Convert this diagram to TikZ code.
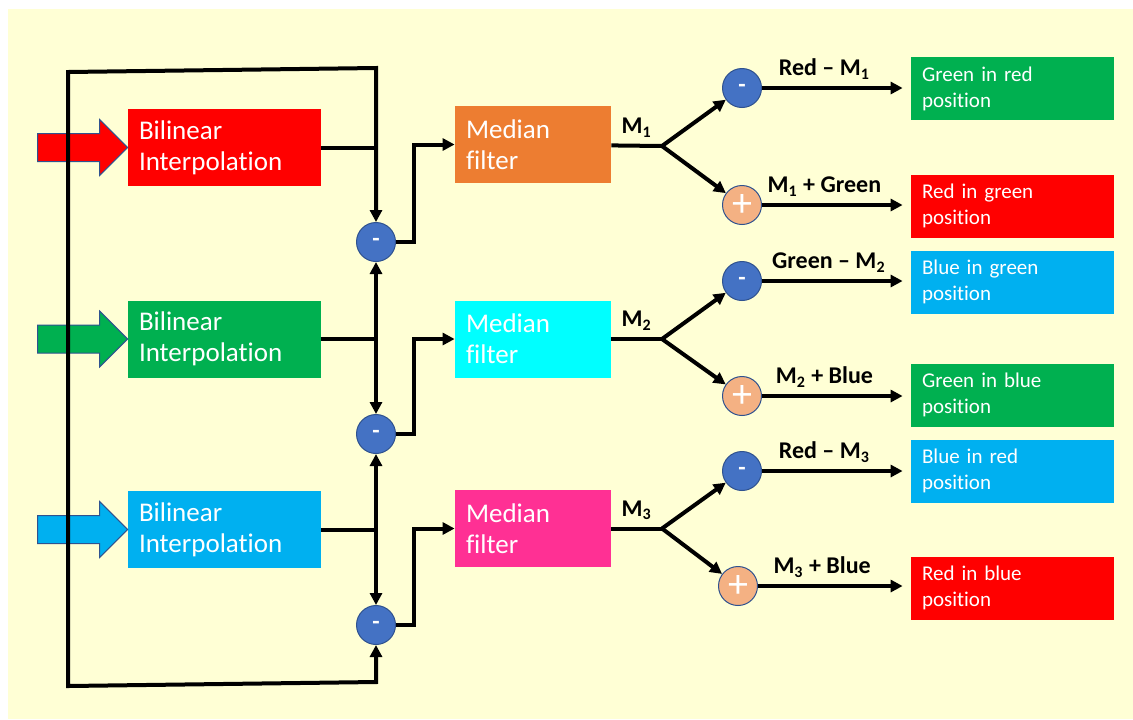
\documentclass[tikz,border=0pt]{standalone}
\usepackage{fontspec}
\setmainfont{Carlito}[Ligatures={TeX,NoCommon}]
\definecolor{bgyellow}{RGB}{255, 255, 213}
\definecolor{bilred}{RGB}{255, 0, 0}
\definecolor{bilgreen}{RGB}{0, 176, 80}
\definecolor{bilblue}{RGB}{0, 176, 240}
\definecolor{medorange}{RGB}{237, 125, 49}
\definecolor{medcyan}{RGB}{0, 255, 255}
\definecolor{medpink}{RGB}{255, 48, 148}
\definecolor{subblue}{RGB}{68, 114, 196}
\definecolor{addorange}{RGB}{244, 177, 131}
\definecolor{edgeblue}{RGB}{47, 82, 143}
\usetikzlibrary{arrows.meta, positioning}

\begin{document}
\begin{tikzpicture}[x=0.5pt, y=-0.5pt,
    flow/.style={draw=black, line width=2pt},
    >={Triangle[length=6pt, width=6pt]},
    bilbox/.style={rectangle, text=white, align=left, inner xsep=5.5pt,
                   text width=85.5pt, minimum height=38.5pt,
                   font=\fontsize{13.5}{15.5}\selectfont},
    medbox/.style={bilbox, text width=67pt},
    outbox/.style={rectangle, text=white, align=left, inner xsep=5.5pt,
                   text width=90.5pt, minimum height=31.5pt,
                   font=\fontsize{10.5}{13}\selectfont},
    subnode/.style={circle, fill=subblue, draw=edgeblue, line width=0.5pt,
                    minimum size=19.5pt, inner sep=0pt, text=white,
                    font=\fontsize{12}{12}\selectfont\bfseries},
    addnode/.style={subnode, fill=addorange,
                    font=\fontsize{20}{20}\selectfont},
    lbl/.style={font=\fontsize{12}{14}\selectfont\bfseries},
    inarrow/.style={draw=edgeblue, line width=0.5pt}]

    % background
    \useasboundingbox (0,0) rectangle (1133,719);
    \fill[bgyellow] (8,9) rectangle (1133,719);

    % Bilinear interpolation
    \node[bilbox, fill=bilred] (bil1) at (224.5,147.5) {Bilinear\\Interpolation};
    \node[bilbox, fill=bilgreen] (bil2) at (224.5,339) {Bilinear\\Interpolation};
    \node[bilbox, fill=bilblue] (bil3) at (224.5,529.5) {Bilinear\\Interpolation};

    % input arrows
    \draw[inarrow, fill=bilred] (bil1.west) -- ++(-28,-28) -- ++(0,14) -- ++(-62,0)
        -- ++(0,28) -- ++(62,0) -- ++(0,14) -- cycle;
    \draw[inarrow, fill=bilgreen] (bil2.west) -- ++(-28,-28) -- ++(0,14) -- ++(-62,0)
        -- ++(0,28) -- ++(62,0) -- ++(0,14) -- cycle;
    \draw[inarrow, fill=bilblue] (bil3.west) -- ++(-28,-28) -- ++(0,14) -- ++(-62,0)
        -- ++(0,28) -- ++(62,0) -- ++(0,14) -- cycle;

    % Difference nodes
    \node[subnode] (c1) at (376,242) {-};
    \node[subnode] (c2) at (376,434) {-};
    \node[subnode] (c3) at (376,625) {-};

    % Wrap-around loop
    \coordinate (lt) at (376,68);
    \coordinate (ltl) at (68,72);
    \coordinate (lbl) at (68,686);
    \coordinate (lb) at (376,682);
    \draw[flow, <->] (c1) -- (lt) -- (ltl) -- (lbl) -- (lb) -- (c3);

    \draw[flow] (bil1) -- (bil1 -| lt);
    \draw[flow] (bil2) -- (bil2 -| c1);
    \draw[flow] (bil3) -- (bil3 -| c2);
    \draw[flow, <->] (c1) -- (c2);
    \draw[flow, <->] (c2) -- (c3);

    % Median filters
    \node[medbox, fill=medorange] (med1) at (533,144.5) {Median\\filter};
    \node[medbox, fill=medcyan] (med2) at (533,339) {Median\\filter};
    \node[medbox, fill=medpink] (med3) at (533,528.5) {Median\\filter};

    \draw[flow, ->] (c1) -- ++(38,0) |- (med1.west);
    \draw[flow, ->] (c2) -- ++(38,0) |- (med2.west);
    \draw[flow, ->] (c3) -- ++(38,0) |- (med3.west);

    % Branches
    \coordinate (j1) at (662,146);
    \coordinate (j2) at (662,339);
    \coordinate (j3) at (662,528.5);

    \node[subnode] (s1) at (742,88) {-};
    \node[addnode] (a1) at (742,205) {+};
    \node[subnode] (s2) at (742,281) {-};
    \node[addnode] (a2) at (742,396) {+};
    \node[subnode] (s3) at (742,471) {-};
    \node[addnode] (a3) at (738,586) {+};

    \draw[flow] (med1) -- (j1) node[lbl, midway, above] {M\textsubscript{1}};
    \draw[flow] (med2) -- (j2) node[lbl, midway, above] {M\textsubscript{2}};
    \draw[flow] (med3) -- (j3) node[lbl, midway, above] {M\textsubscript{3}};
    \draw[flow, ->] (j1) -- (s1);
    \draw[flow, ->] (j1) -- (a1);
    \draw[flow, ->] (j2) -- (s2);
    \draw[flow, ->] (j2) -- (a2);
    \draw[flow, ->] (j3) -- (s3);
    \draw[flow, ->] (j3) -- (a3);

    % Outputs
    \node[outbox, fill=bilgreen] (o1) at (1012.5,88.5) {Green in red\\position};
    \node[outbox, fill=bilred] (o2) at (1012.5,206) {Red in green\\position};
    \node[outbox, fill=bilblue] (o3) at (1012.5,282) {Blue in green\\position};
    \node[outbox, fill=bilgreen] (o4) at (1012.5,395) {Green in blue\\position};
    \node[outbox, fill=bilblue] (o5) at (1012.5,471) {Blue in red\\position};
    \node[outbox, fill=bilred] (o6) at (1012.5,588) {Red in blue\\position};

    \draw[flow, ->, shorten >=4pt] (s1) -- (s1 -| o1.west)
        node[lbl, pos=0.42, above] {Red \textendash{} M\textsubscript{1}};
    \draw[flow, ->, shorten >=4pt] (a1) -- (a1 -| o2.west)
        node[lbl, pos=0.42, above] {M\textsubscript{1} + Green};
    \draw[flow, ->, shorten >=4pt] (s2) -- (s2 -| o3.west)
        node[lbl, pos=0.45, above] {Green \textendash{} M\textsubscript{2}};
    \draw[flow, ->, shorten >=4pt] (a2) -- (a2 -| o4.west)
        node[lbl, pos=0.42, above] {M\textsubscript{2} + Blue};
    \draw[flow, ->, shorten >=4pt] (s3) -- (s3 -| o5.west)
        node[lbl, pos=0.42, above] {Red \textendash{} M\textsubscript{3}};
    \draw[flow, ->, shorten >=4pt] (a3) -- (a3 -| o6.west)
        node[lbl, pos=0.42, above] {M\textsubscript{3} + Blue};
\end{tikzpicture}
\end{document}
